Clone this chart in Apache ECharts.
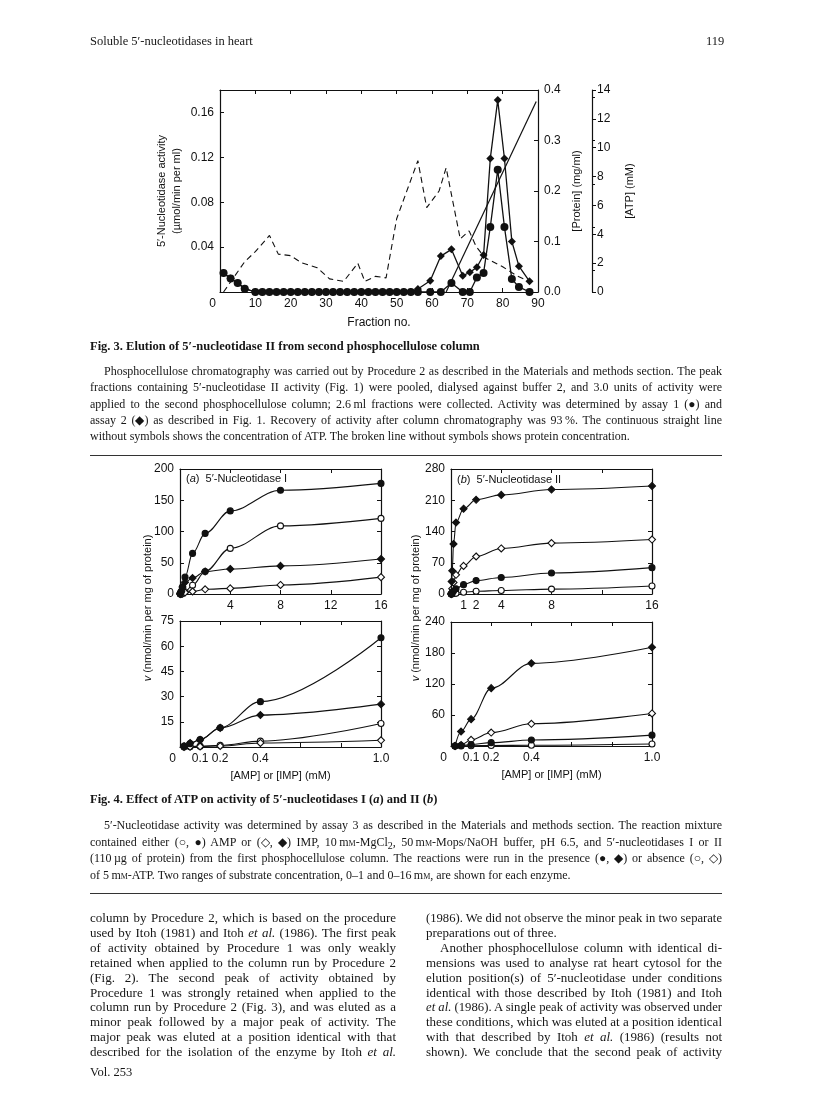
<!DOCTYPE html>
<html>
<head>
<meta charset="utf-8">
<title>Soluble 5'-nucleotidases in heart</title>
<script src="https://cdn.jsdelivr.net/npm/echarts@6/dist/echarts.min.js"></script>
<style>
html, body { margin: 0; padding: 0; background: #fff; }
#page { position: relative; width: 816px; height: 1100px; overflow: hidden; background: #fff; }
#chart { position: absolute; left: 0; top: 0; width: 816px; height: 1100px; }
.ln { position: absolute; white-space: nowrap; font-family: "Liberation Serif", "Times New Roman", serif; color: #161616; transform-origin: 0 0; }
.sc { font-variant: small-caps; }
.rule { position: absolute; height: 0; border-top: 1.4px solid #333; }
</style>
</head>
<body>
<div id="page">
  <div id="chart"></div>
</div>
<script>
// Fig. 3 - elution profile (fraction no. vs activity)
var fig3Frac = [1, 3, 5, 7, 10, 12, 14, 16, 18, 20, 22, 24, 26, 28, 30, 32, 34, 36, 38, 40, 42, 44, 46, 48, 50, 52, 54, 56, 59.5, 62.5, 65.5, 68.7, 70.7, 72.7, 74.6, 76.5, 78.6, 80.5, 82.6, 84.6, 87.6];
var assay1Act = [0.017, 0.012, 0.008, 0.003, 0, 0, 0, 0, 0, 0, 0, 0, 0, 0, 0, 0, 0, 0, 0, 0, 0, 0, 0, 0, 0, 0, 0, 0, 0, 0, 0.008, 0, 0, 0.013, 0.017, 0.058, 0.109, 0.058, 0.0115, 0.0045, 0];
var assay2Act = [0.017, 0.012, 0.008, 0.003, 0, 0, 0, 0, 0, 0, 0, 0, 0, 0, 0, 0, 0, 0, 0, 0, 0, 0, 0, 0, 0, 0, 0, 0.0027, 0.010, 0.032, 0.038, 0.0145, 0.0175, 0.022, 0.033, 0.119, 0.171, 0.119, 0.045, 0.023, 0.0095];
var proteinFrac = [1, 4, 7, 10, 14, 16.5, 20, 23, 27.5, 31, 35, 39, 41, 44, 47, 50, 56, 58.5, 62, 64, 68, 70.5, 72.5, 75, 80, 84, 87.6];
var proteinConc = [0, 0.03, 0.06, 0.08, 0.112, 0.075, 0.072, 0.058, 0.048, 0.026, 0.021, 0.057, 0.021, 0.031, 0.028, 0.145, 0.26, 0.167, 0.2, 0.246, 0.105, 0.121, 0.09, 0.068, 0.05, 0.032, 0.021];
var atpFrac = [64, 89.5];
var atpConc = [0, 13.2];

var fig3FracLabels = [0, 10, 20, 30, 40, 50, 60, 70, 80, 90];
var fig3ActLabels = [0.04, 0.08, 0.12, 0.16];
var proteinLabels = [0, 0.1, 0.2, 0.3, 0.4];
var atpLabels = [0, 2, 4, 6, 8, 10, 12, 14];

// Fig. 4 - substrate curves
var substrateConc = [0.02, 0.05, 0.1, 0.2, 0.4, 1, 2, 4, 8, 16];
var enzI_ampAtp = [0.5, 2, 4.5, 11.5, 27, 65, 97, 133, 166, 177];
var enzI_amp = [0, 0.2, 0.5, 1, 3.5, 14, 36, 73, 109, 121];
var enzI_impAtp = [0.5, 2.4, 4.3, 11.4, 19, 25.5, 36, 40, 45, 56];
var enzI_imp = [0, 0.2, 0.3, 0.6, 2.4, 4, 7.5, 9, 14.5, 27];
var enzII_ampAtp = [0, 1, 3, 6.5, 11.5, 21, 30, 37, 47, 59];
var enzII_amp = [0, 0, 0.5, 1, 1.5, 4, 6, 8, 11, 18];
var enzII_impAtp = [0, 28, 52, 112, 160, 191, 211, 222, 234, 242];
var enzII_imp = [0, 2, 12, 26, 43, 63, 84, 102, 114, 122];

var wideLabelsI = [4, 8, 12, 16];
var wideLabelsII = [1, 2, 4, 8, 16];
var wideTicks = [0, 4, 8, 12, 16];
var narrowLabels = [0, 0.1, 0.2, 0.4, 1.0];
var narrowTicks = [0, 0.2, 0.4, 0.6, 0.8, 1.0];
var topLabelsI = [0, 50, 100, 150, 200];
var topLabelsII = [0, 70, 140, 210, 280];
var bottomLabelsI = [15, 30, 45, 60, 75];
var bottomLabelsII = [60, 120, 180, 240];

var sans = '"Liberation Sans", Arial, sans-serif';
var ink = '#111';

function pairs(xs, ys, maxX) {
    var out = [];
    xs.forEach(function (x, i) {
        if (maxX === undefined || x <= maxX) {
            out.push([x, ys[i]]);
        }
    });
    return out;
}

function zeroFirst(fmt) {
    return function (v) {
        if (v === 0) return '{z|0}';
        return fmt(v);
    };
}

function labelStyle(extra) {
    var s = { fontFamily: sans, fontSize: 12, color: ink, margin: 6 };
    for (var k in extra) s[k] = extra[k];
    return s;
}

function makeAxis(kind, grid, pos, min, max, ticks, labels, fmt, extra) {
    var ax = {
        type: 'value', gridIndex: grid, position: pos, min: min, max: max,
        axisLine: { show: true, onZero: false, lineStyle: { color: ink, width: 1.2 } },
        axisTick: { show: true, inside: true, length: 4, customValues: ticks, lineStyle: { color: ink, width: 1 } },
        axisLabel: labels ? labelStyle({ customValues: labels, formatter: fmt, rich: { z: { fontFamily: sans, fontSize: 12, color: ink, padding: [0, 15, 0, 0] } } }) : { show: false },
        splitLine: { show: false }
    };
    for (var k in extra) ax[k] = extra[k];
    return ax;
}

var grids = [
    { left: 220, top: 90, width: 318, height: 202 },
    { left: 180, top: 469, width: 201, height: 125 },
    { left: 180, top: 621, width: 201, height: 126 },
    { left: 451, top: 469, width: 201, height: 125 },
    { left: 451, top: 622, width: 201, height: 124 }
];

var fix1 = function (v) { return v.toFixed(1); };
var fix2 = function (v) { return v.toFixed(2); };
var plain = function (v) { return String(v); };

var xAxes = [
    makeAxis('x', 0, 'bottom', 0, 90, fig3FracLabels, fig3FracLabels, zeroFirst(plain), {
        name: 'Fraction no.', nameLocation: 'middle', nameGap: 25,
        nameTextStyle: { fontFamily: sans, fontSize: 12, color: ink }
    }),
    makeAxis('x', 0, 'top', 0, 90, fig3FracLabels, null),
    makeAxis('x', 1, 'bottom', 0, 16, wideTicks, wideLabelsI, plain),
    makeAxis('x', 1, 'top', 0, 16, wideTicks, null),
    makeAxis('x', 2, 'bottom', 0, 1, narrowTicks, narrowLabels, zeroFirst(fix1), {
        name: '[AMP] or [IMP] (mM)', nameLocation: 'middle', nameGap: 23,
        nameTextStyle: { fontFamily: sans, fontSize: 11, color: ink }
    }),
    makeAxis('x', 2, 'top', 0, 1, narrowTicks, null),
    makeAxis('x', 3, 'bottom', 0, 16, wideTicks, wideLabelsII, plain),
    makeAxis('x', 3, 'top', 0, 16, wideTicks, null),
    makeAxis('x', 4, 'bottom', 0, 1, narrowTicks, narrowLabels, zeroFirst(fix1), {
        name: '[AMP] or [IMP] (mM)', nameLocation: 'middle', nameGap: 23,
        nameTextStyle: { fontFamily: sans, fontSize: 11, color: ink }
    }),
    makeAxis('x', 4, 'top', 0, 1, narrowTicks, null)
];

var yAxes = [
    makeAxis('y', 0, 'left', 0, 0.18, [0, 0.04, 0.08, 0.12, 0.16], fig3ActLabels, fix2, {
        name: '5\u2032-Nucleotidase activity\n(\u00b5mol/min per ml)', nameLocation: 'middle', nameRotate: 90, nameGap: 36,
        nameTextStyle: { fontFamily: sans, fontSize: 11, color: ink, lineHeight: 15 }
    }),
    makeAxis('y', 0, 'right', 0, 0.4, proteinLabels, proteinLabels, fix1, {
        name: '[Protein] (mg/ml)', nameLocation: 'middle', nameRotate: 90, nameGap: 33,
        nameTextStyle: { fontFamily: sans, fontSize: 11, color: ink }
    }),
    makeAxis('y', 1, 'left', 0, 200, topLabelsI, topLabelsI, plain),
    makeAxis('y', 1, 'right', 0, 200, topLabelsI, null),
    makeAxis('y', 2, 'left', 0, 75, [0].concat(bottomLabelsI), bottomLabelsI, plain),
    makeAxis('y', 2, 'right', 0, 75, [0].concat(bottomLabelsI), null),
    makeAxis('y', 3, 'left', 0, 280, topLabelsII, topLabelsII, plain),
    makeAxis('y', 3, 'right', 0, 280, topLabelsII, null),
    makeAxis('y', 4, 'left', 0, 240, [0].concat(bottomLabelsII), bottomLabelsII, plain),
    makeAxis('y', 4, 'right', 0, 240, [0].concat(bottomLabelsII), null)
];

// separate ATP scale standing off the right of fig 3
var atpAxis = makeAxis('y', 0, 'right', 0, 14, atpLabels, atpLabels, plain, {
    offset: 54,
    name: '[ATP] (mM)', nameLocation: 'middle', nameRotate: 90, nameGap: 32,
    nameTextStyle: { fontFamily: sans, fontSize: 11, color: ink },
    minorTick: { show: true, splitNumber: 2, length: 3, lineStyle: { color: ink } }
});
atpAxis.axisTick.inside = false;
atpAxis.axisTick.customValues = atpLabels;
atpAxis.axisLabel.margin = 5;
yAxes.push(atpAxis);

function curve(name, xs, ys, grid, filled, shape, maxX) {
    return {
        name: name, type: 'line', xAxisIndex: grid * 2, yAxisIndex: grid * 2,
        data: pairs(xs, ys, maxX),
        smooth: 0.35, smoothMonotone: 'x',
        symbol: shape, symbolSize: shape === 'diamond' ? 7 : 6,
        itemStyle: { color: filled ? ink : '#fff', borderColor: ink, borderWidth: 1.1 },
        lineStyle: { color: ink, width: 1.1 },
        clip: false, animation: false, z: filled ? 3 : 2
    };
}

var series = [
    {
        name: 'Protein', type: 'line', xAxisIndex: 0, yAxisIndex: 1,
        data: pairs(proteinFrac, proteinConc), showSymbol: false, symbol: 'none',
        lineStyle: { color: ink, width: 1.1, type: [6, 4] }, animation: false
    },
    {
        name: 'ATP', type: 'line', xAxisIndex: 0, yAxisIndex: 10,
        data: pairs(atpFrac, atpConc), symbol: 'none',
        lineStyle: { color: ink, width: 1.2 }, animation: false
    },
    {
        name: 'Assay 2', type: 'line', xAxisIndex: 0, yAxisIndex: 0,
        data: pairs(fig3Frac, assay2Act), symbol: 'diamond', symbolSize: 8,
        itemStyle: { color: ink }, lineStyle: { color: ink, width: 1.3 }, clip: false, animation: false
    },
    {
        name: 'Assay 1', type: 'line', xAxisIndex: 0, yAxisIndex: 0,
        data: pairs(fig3Frac, assay1Act), symbol: 'circle', symbolSize: 8,
        itemStyle: { color: ink }, lineStyle: { color: ink, width: 1.3 }, clip: false, animation: false, z: 3
    }
];

// enzyme I: wide range (grid 1) and narrow range (grid 2)
[[1, undefined], [2, 1]].forEach(function (g) {
    series.push(curve('I AMP+ATP', substrateConc, enzI_ampAtp, g[0], true, 'circle', g[1]));
    series.push(curve('I AMP', substrateConc, enzI_amp, g[0], false, 'circle', g[1]));
    series.push(curve('I IMP+ATP', substrateConc, enzI_impAtp, g[0], true, 'diamond', g[1]));
    series.push(curve('I IMP', substrateConc, enzI_imp, g[0], false, 'diamond', g[1]));
});
// enzyme II: grids 3 and 4
[[3, undefined], [4, 1]].forEach(function (g) {
    series.push(curve('II AMP+ATP', substrateConc, enzII_ampAtp, g[0], true, 'circle', g[1]));
    series.push(curve('II AMP', substrateConc, enzII_amp, g[0], false, 'circle', g[1]));
    series.push(curve('II IMP+ATP', substrateConc, enzII_impAtp, g[0], true, 'diamond', g[1]));
    series.push(curve('II IMP', substrateConc, enzII_imp, g[0], false, 'diamond', g[1]));
});

function vLabel(x, y) {
    return {
        type: 'text', x: x, y: y, rotation: Math.PI / 2,
        style: {
            text: '{i|v} (nmol/min per mg of protein)', align: 'center', verticalAlign: 'middle',
            font: '11px ' + sans, fill: ink,
            rich: { i: { fontStyle: 'italic', fontFamily: sans, fontSize: 11, fill: ink } }
        }
    };
}

function panelLabel(x, y, letter, title) {
    return {
        type: 'text', x: x, y: y,
        style: {
            text: '({i|' + letter + '})  ' + title, verticalAlign: 'middle',
            font: '11px ' + sans, fill: ink,
            rich: { i: { fontStyle: 'italic', fontFamily: sans, fontSize: 11, fill: ink } }
        }
    };
}

var chart = echarts.init(document.getElementById('chart'));
chart.setOption({
    animation: false,
    grid: grids,
    xAxis: xAxes,
    yAxis: yAxes,
    series: series,
    graphic: [
        vLabel(148, 608),
        vLabel(416, 608),
        panelLabel(186, 479, 'a', '5\u2032-Nucleotidase I'),
        panelLabel(457, 480, 'b', '5\u2032-Nucleotidase II')
    ]
});

// page text around the figures
var mm = 'm<span class="sc">m</span>';
var header = [
    { x: 90, y: 34, size: 12.5, text: 'Soluble 5\u2032-nucleotidases in heart' },
    { x: 706, y: 34, size: 12.5, text: '119' },
    { x: 90, y: 1065, size: 12.5, text: 'Vol. 253' }
];

var fig3Caption = [
    ['<b>Fig. 3. Elution of 5\u2032-nucleotidase II from second phosphocellulose column</b>', 'free'],
    ['Phosphocellulose chromatography was carried out by Procedure 2 as described in the Materials and methods section. The peak', 'indent'],
    ['fractions containing 5\u2032-nucleotidase II activity (Fig. 1) were pooled, dialysed against buffer 2, and 3.0 units of activity were', ''],
    ['applied to the second phosphocellulose column; 2.6\u2009ml fractions were collected. Activity was determined by assay 1 (\u25cf) and', ''],
    ['assay 2 (\u25c6) as described in Fig. 1. Recovery of activity after column chromatography was 93\u2009%. The continuous straight line', ''],
    ['without symbols shows the concentration of ATP. The broken line without symbols shows protein concentration.', 'free']
];

var fig4Caption = [
    ['<b>Fig. 4. Effect of ATP on activity of 5\u2032-nucleotidases I (<i>a</i>) and II (<i>b</i>)</b>', 'free'],
    ['5\u2032-Nucleotidase activity was determined by assay 3 as described in the Materials and methods section. The reaction mixture', 'indent'],
    ['contained either (\u25cb, \u25cf) AMP or (\u25c7, \u25c6) IMP, 10\u2009' + mm + '-MgCl<sub>2</sub>, 50\u2009' + mm + '-Mops/NaOH buffer, pH 6.5, and 5\u2032-nucleotidases I or II', ''],
    ['(110\u2009\u00b5g of protein) from the first phosphocellulose column. The reactions were run in the presence (\u25cf, \u25c6) or absence (\u25cb, \u25c7)', ''],
    ['of 5\u2009' + mm + '-ATP. Two ranges of substrate concentration, 0\u20131 and 0\u201316\u2009' + mm + ', are shown for each enzyme.', 'free']
];

var leftColumn = [
    ['column by Procedure 2, which is based on the procedure', ''],
    ['used by Itoh (1981) and Itoh <i>et al.</i> (1986). The first peak', ''],
    ['of activity obtained by Procedure 1 was only weakly', ''],
    ['retained when applied to the column run by Procedure 2', ''],
    ['(Fig. 2). The second peak of activity obtained by', ''],
    ['Procedure 1 was strongly retained when applied to the', ''],
    ['column run by Procedure 2 (Fig. 3), and was eluted as a', ''],
    ['minor peak followed by a major peak of activity. The', ''],
    ['major peak was eluted at a position identical with that', ''],
    ['described for the isolation of the enzyme by Itoh <i>et al.</i>', '']
];

var rightColumn = [
    ['(1986). We did not observe the minor peak in two separate', ''],
    ['preparations out of three.', 'free'],
    ['Another phosphocellulose column with identical di-', 'indent'],
    ['mensions was used to analyse rat heart cytosol for the', ''],
    ['elution position(s) of 5\u2032-nucleotidase under conditions', ''],
    ['identical with those described by Itoh (1981) and Itoh', ''],
    ['<i>et al.</i> (1986). A single peak of activity was observed under', ''],
    ['these conditions, which was eluted at a position identical', ''],
    ['with that described by Itoh <i>et al.</i> (1986) (results not', ''],
    ['shown). We conclude that the second peak of activity', '']
];

var page = document.getElementById('page');

function placeLines(lines, left, top, step, width, size) {
    lines.forEach(function (line, i) {
        var el = document.createElement('div');
        el.className = 'ln';
        el.style.fontSize = size + 'px';
        el.innerHTML = line[0];
        var indent = line[1] === 'indent' ? 14 : 0;
        el.style.left = (left + indent) + 'px';
        el.style.top = (top + i * step) + 'px';
        page.appendChild(el);
        var target = width - indent;
        var natural = el.getBoundingClientRect().width;
        if (natural > target) {
            el.style.transform = 'scaleX(' + (target / natural) + ')';
        } else if (line[1] !== 'free') {
            var gaps = el.textContent.split(' ').length - 1;
            if (gaps > 0) el.style.wordSpacing = ((target - natural) / gaps) + 'px';
        }
    });
}

function rule(x, y, w) {
    var el = document.createElement('div');
    el.className = 'rule';
    el.style.left = x + 'px';
    el.style.top = y + 'px';
    el.style.width = w + 'px';
    page.appendChild(el);
}

header.forEach(function (h) {
    var el = document.createElement('div');
    el.className = 'ln';
    el.style.fontSize = h.size + 'px';
    el.style.left = h.x + 'px';
    el.style.top = h.y + 'px';
    el.innerHTML = h.text;
    page.appendChild(el);
});

placeLines(fig3Caption.slice(0, 1), 90, 339, 16, 632, 12.5);
placeLines(fig3Caption.slice(1), 90, 364, 16.3, 632, 12);
rule(90, 455, 632);
placeLines(fig4Caption.slice(0, 1), 90, 792, 16, 632, 12.5);
placeLines(fig4Caption.slice(1), 90, 818, 16.7, 632, 12);
rule(90, 893, 632);
placeLines(leftColumn, 90, 910, 14.9, 306, 13);
placeLines(rightColumn, 426, 910, 14.9, 296, 13);
</script>
</body>
</html>
